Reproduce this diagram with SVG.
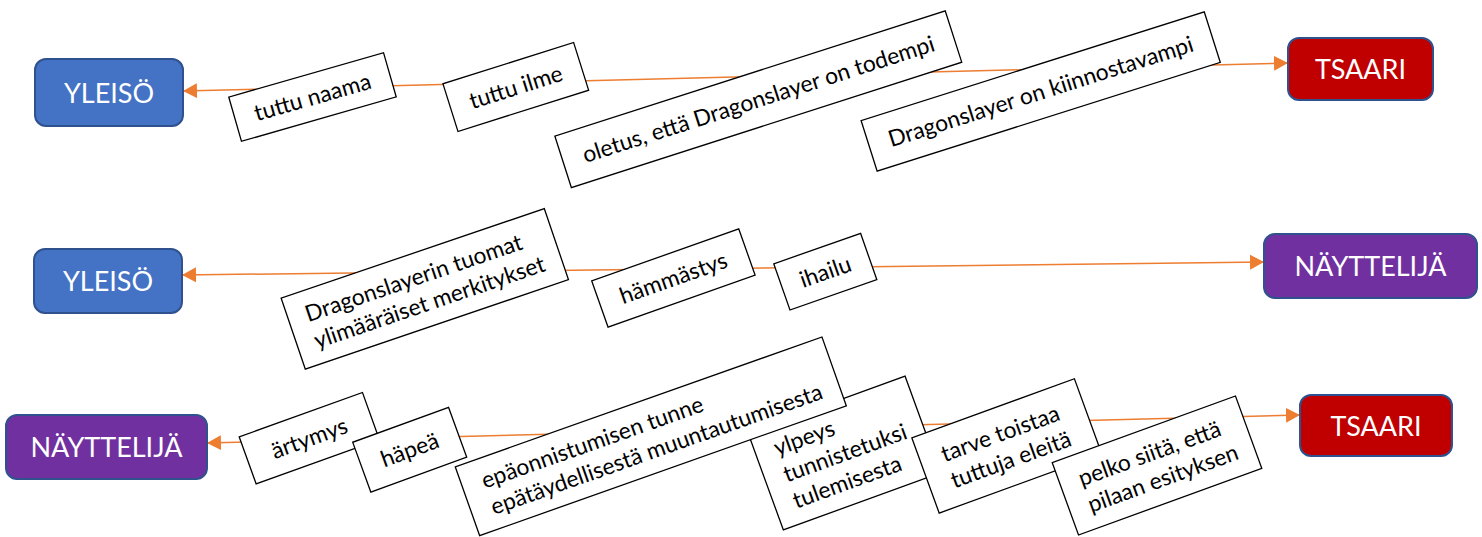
<svg xmlns="http://www.w3.org/2000/svg" width="1482" height="537" viewBox="0 0 1482 537">
<style>
.node rect{stroke:#2F528F;stroke-width:2}
.node text{font-family:Lato,"Open Sans","Liberation Sans",sans-serif;font-size:27px;fill:#fff;text-anchor:middle}
.lbl rect{fill:#fff;stroke:#000;stroke-width:1.3}
.lbl text{font-family:Lato,"Open Sans","Liberation Sans",sans-serif;font-size:22.8px;fill:#000}
.c{text-anchor:middle}
.conn path{fill:none;stroke:#ED7D31;stroke-width:1.5}
</style>
<defs>
<marker id="ah" viewBox="0 0 14 15" refX="14" refY="7.5" markerWidth="14" markerHeight="15" markerUnits="userSpaceOnUse" orient="auto-start-reverse">
<path d="M0,0 L14,7.5 L0,15 z" fill="#ED7D31"/>
</marker>
</defs>
<g id="connectors" class="conn">
<path d="M183,91 L1288,63" marker-start="url(#ah)" marker-end="url(#ah)"/>
<path d="M182,275 L1264,262" marker-start="url(#ah)" marker-end="url(#ah)"/>
<path d="M207,443 L1300,415" marker-start="url(#ah)" marker-end="url(#ah)"/>
</g>
<g id="yleiso1" class="node"><rect x="35" y="59" width="148" height="67" rx="11" fill="#4472C4"/><text x="109" y="102.5">YLEISÖ</text></g>
<g id="tsaari1" class="node"><rect x="1288" y="38" width="145" height="62" rx="11" fill="#C00000"/><text x="1360.5" y="79">TSAARI</text></g>
<g id="yleiso2" class="node"><rect x="34" y="249" width="148" height="64" rx="11" fill="#4472C4"/><text x="108" y="291">YLEISÖ</text></g>
<g id="nayttelija1" class="node"><rect x="1264" y="234" width="213" height="64" rx="11" fill="#7030A0"/><text x="1370.5" y="276">NÄYTTELIJÄ</text></g>
<g id="nayttelija2" class="node"><rect x="6" y="415" width="201" height="64" rx="11" fill="#7030A0"/><text x="106.5" y="457">NÄYTTELIJÄ</text></g>
<g id="tsaari2" class="node"><rect x="1300" y="395" width="152" height="61" rx="11" fill="#C00000"/><text x="1376" y="435.5">TSAARI</text></g>

<g id="l-tuttu-naama" class="lbl" transform="translate(312.5,97) rotate(-16)"><rect x="-80.5" y="-23" width="161" height="46"/><text class="c" x="0" y="8">tuttu naama</text></g>
<g id="l-tuttu-ilme" class="lbl" transform="translate(515.8,87) rotate(-17.5)"><rect x="-68.5" y="-25" width="137" height="50"/><text class="c" x="0" y="8">tuttu ilme</text></g>
<g id="l-oletus" class="lbl" transform="translate(758.3,99.2) rotate(-17.8)"><rect x="-205" y="-27" width="410" height="54"/><text class="c" x="0" y="8">oletus, että Dragonslayer on todempi</text></g>
<g id="l-kiinnostavampi" class="lbl" transform="translate(1040.7,91.5) rotate(-17.6)"><rect x="-180" y="-26.5" width="360" height="53"/><text class="c" x="0" y="8">Dragonslayer on kiinnostavampi</text></g>

<g id="l-merkitykset" class="lbl" transform="translate(424.8,288.9) rotate(-18.8)"><rect x="-139" y="-37.5" width="278" height="75"/><text x="-121" y="-6">Dragonslayerin tuomat</text><text x="-121" y="22">ylimääräiset merkitykset</text></g>
<g id="l-hammastys" class="lbl" transform="translate(673.4,278) rotate(-19.5)"><rect x="-78" y="-24.5" width="156" height="49"/><text class="c" x="0" y="8">hämmästys</text></g>
<g id="l-ihailu" class="lbl" transform="translate(825.3,271.7) rotate(-19.3)"><rect x="-46" y="-24.5" width="92" height="49"/><text class="c" x="0" y="8">ihailu</text></g>

<g id="l-artymys" class="lbl" transform="translate(309.3,438.2) rotate(-19.8)"><rect x="-65.5" y="-25" width="131" height="50"/><text class="c" x="0" y="8">ärtymys</text></g>
<g id="l-hapea" class="lbl" transform="translate(409.7,449.7) rotate(-20)"><rect x="-51" y="-26.5" width="102" height="53"/><text class="c" x="0" y="8">häpeä</text></g>
<g id="l-ylpeys" class="lbl" transform="translate(844.2,453) rotate(-20)"><rect x="-83.5" y="-51.5" width="167" height="103"/><text x="-64" y="-20">ylpeys</text><text x="-64" y="8">tunnistetuksi</text><text x="-64" y="36">tulemisesta</text></g>
<g id="l-epaonnistumisen" class="lbl" transform="translate(650.8,436.3) rotate(-19.5)"><rect x="-194.5" y="-36.5" width="389" height="73"/><text x="-174" y="-6">epäonnistumisen tunne</text><text x="-174" y="22">epätäydellisestä muuntautumisesta</text></g>
<g id="l-tarve" class="lbl" transform="translate(1006.8,445.9) rotate(-20)"><rect x="-86.5" y="-40" width="173" height="80"/><text x="-64" y="-6">tarve toistaa</text><text x="-64" y="22">tuttuja eleitä</text></g>
<g id="l-pelko" class="lbl" transform="translate(1157,465.5) rotate(-20)"><rect x="-97.5" y="-38.5" width="195" height="77"/><text x="-78" y="-6">pelko siitä, että</text><text x="-78" y="22">pilaan esityksen</text></g>
</svg>
